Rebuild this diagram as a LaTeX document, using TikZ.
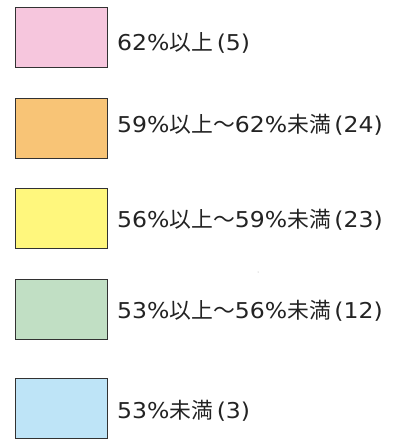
\documentclass[tikz,border=0pt]{standalone}
\usepackage{fontspec}
\setmainfont{Noto Sans CJK JP}
\newfontfamily\latinfont[FakeStretch=1.08]{DejaVu Sans}
\newcommand\lat[1]{{\latinfont #1}}
\definecolor{cpink}{RGB}{246,198,221}
\definecolor{corange}{RGB}{248,196,118}
\definecolor{cyellow}{RGB}{255,247,125}
\definecolor{cgreen}{RGB}{193,223,196}
\definecolor{cblue}{RGB}{190,228,247}
\definecolor{cedge}{RGB}{50,50,50}
\definecolor{ctext}{RGB}{35,35,35}
\begin{document}
\begin{tikzpicture}[x=1pt,y=-1pt,
  swatch/.style={draw=cedge,line width=1.2pt,minimum width=92pt,minimum height=60pt,inner sep=0pt,anchor=north west},
  lbl/.style={anchor=base west,inner sep=0pt,text=ctext,font=\fontsize{21.8}{23}\selectfont}]
\useasboundingbox (0,0) rectangle (398,443);
\node[swatch,fill=cpink]   (b1) at (14.5,7) {};
\node[swatch,fill=corange] (b2) at (14.5,98) {};
\node[swatch,fill=cyellow] (b3) at (14.5,188) {};
\node[swatch,fill=cgreen]  (b4) at (14.5,279) {};
\node[swatch,fill=cblue]   (b5) at (14.5,378) {};
\node[lbl] (t1) at (117,51) {\lat{62\%}以上\lat{\,(5)}};
\node[lbl] (t2) at (117,133) {\lat{59\%}以上〜\lat{62\%}未満\lat{\,(24)}};
\node[lbl] (t3) at (117,227) {\lat{56\%}以上〜\lat{59\%}未満\lat{\,(23)}};
\node[lbl] (t4) at (117,318) {\lat{53\%}以上〜\lat{56\%}未満\lat{\,(12)}};
\node[lbl] (t5) at (117,418) {\lat{53\%}未満\lat{\,(3)}};
\fill[gray!70] (258,272) circle (0.5pt);
\end{tikzpicture}
\end{document}
